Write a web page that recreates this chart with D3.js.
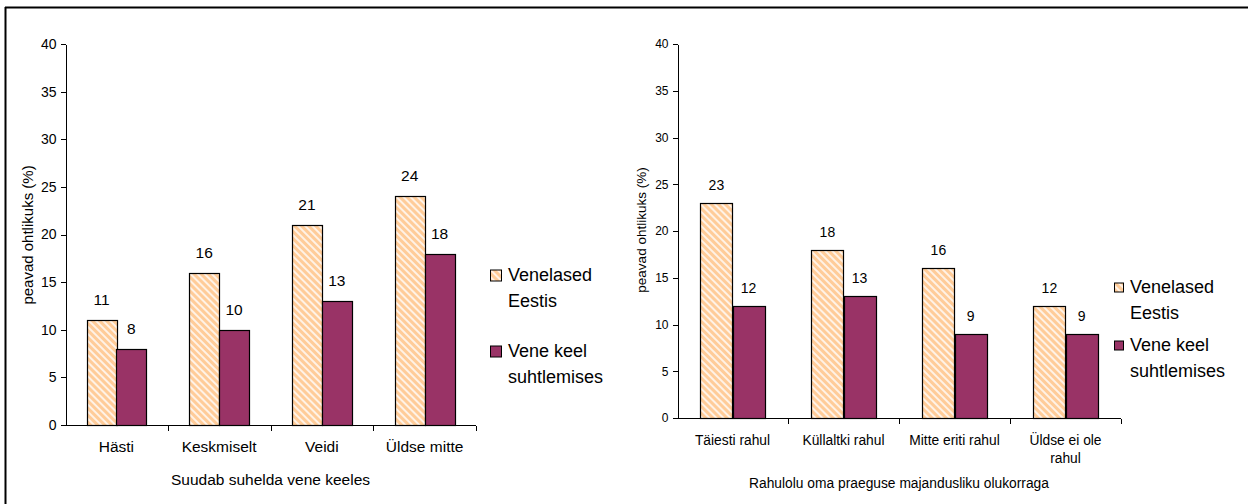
<!DOCTYPE html>
<html lang="et">
<head>
<meta charset="utf-8">
<title>Venelased Eestis</title>
<script src="https://cdn.jsdelivr.net/npm/d3@7"></script>
<style>
  body { margin: 0; background: #fff; }
  svg text { font-family: "Liberation Sans", Arial, sans-serif; fill: #000; }
  .axis path, .axis line { stroke: #000; shape-rendering: crispEdges; }
</style>
</head>
<body>
<script>
// data
var yTicks = [0, 5, 10, 15, 20, 25, 30, 35, 40];
var seriesNames = [["Venelased", "Eestis"], ["Vene keel", "suhtlemises"]];

var leftCategories = [["Hästi"], ["Keskmiselt"], ["Veidi"], ["Üldse mitte"]];
var leftVenelased = [11, 16, 21, 24];
var leftVeneKeel = [8, 10, 13, 18];
var leftTitle = "Suudab suhelda vene keeles";

var rightCategories = [["Täiesti rahul"], ["Küllaltki rahul"], ["Mitte eriti rahul"], ["Üldse ei ole", "rahul"]];
var rightVenelased = [23, 18, 16, 12];
var rightVeneKeel = [12, 13, 9, 9];
var rightTitle = "Rahulolu oma praeguse majandusliku olukorraga";

var yTitle = "peavad ohtlikuks (%)";

var W = 1248, H = 504;
var svg = d3.select("body").append("svg").attr("width", W).attr("height", H);

// striped fill for first series
var defs = svg.append("defs");
var pat = defs.append("pattern")
  .attr("id", "stripes")
  .attr("patternUnits", "userSpaceOnUse")
  .attr("width", 5).attr("height", 5)
  .attr("patternTransform", "rotate(-45)");
pat.append("rect").attr("width", 5).attr("height", 5).attr("fill", "#ffcc99");
pat.append("rect").attr("width", 2).attr("height", 5).attr("fill", "#fff2e6");

var fills = ["url(#stripes)", "#993366"];

// outer frame (top and left edges visible)
svg.append("line").attr("x1", 5).attr("x2", W).attr("y1", 7.5).attr("y2", 7.5)
  .attr("stroke", "#000").attr("stroke-width", 2);
svg.append("line").attr("x1", 5.5).attr("x2", 5.5).attr("y1", 7).attr("y2", H)
  .attr("stroke", "#000").attr("stroke-width", 2);

function drawChart(c) {
  var g = svg.append("g");

  var x = d3.scaleBand()
    .domain(d3.range(c.categories.length))
    .range([c.x0, c.x1]);

  var y = d3.scaleLinear().domain([0, 40]).range([c.y0, c.y1]);

  var inner = d3.scaleBand()
    .domain([0, 1])
    .range([x.bandwidth() * 0.21, x.bandwidth() * 0.79]);

  // bars
  var series = [c.a, c.b];
  series.forEach(function(vals, si) {
    g.selectAll(".bar" + si)
      .data(vals)
      .enter().append("rect")
      .attr("x", function(d, i) { return Math.round(x(i) + inner(si)) + 0.5; })
      .attr("y", function(d) { return Math.round(y(d)) + 0.5; })
      .attr("width", Math.round(inner.bandwidth()))
      .attr("height", function(d) { return Math.round(y(0)) - Math.round(y(d)); })
      .attr("fill", fills[si])
      .attr("stroke", "#000")
      .attr("stroke-width", 1.2);

    g.selectAll(".lab" + si)
      .data(vals)
      .enter().append("text")
      .attr("x", function(d, i) { return x(i) + inner(si) + inner.bandwidth() / 2; })
      .attr("y", function(d) { return y(d) - c.labelGap; })
      .attr("text-anchor", "middle")
      .style("font-size", c.valueSize + "px")
      .text(function(d) { return d; });
  });

  // y axis
  var yAxis = d3.axisLeft(y).tickValues(yTicks).tickSize(5).tickSizeOuter(0).tickPadding(4);
  var ya = g.append("g").attr("class", "axis")
    .attr("transform", "translate(" + (c.x0 + 0.5) + ",0)")
    .call(yAxis);
  ya.selectAll("text").style("font-size", c.tickSize + "px");

  // x axis with ticks at category boundaries
  var xa = g.append("g").attr("class", "axis")
    .attr("transform", "translate(0," + (Math.round(y(0)) + 0.5) + ")");
  xa.append("line").attr("x1", c.x0).attr("x2", c.x1);
  xa.selectAll(".tk")
    .data(d3.range(1, c.categories.length + 1))
    .enter().append("line")
    .attr("x1", function(i) { return Math.round(c.x0 + i * x.step()) + 0.5; })
    .attr("x2", function(i) { return Math.round(c.x0 + i * x.step()) + 0.5; })
    .attr("y1", 0).attr("y2", 5);

  // category labels
  var cl = g.selectAll(".cat")
    .data(c.categories)
    .enter().append("text")
    .attr("text-anchor", "middle")
    .attr("x", function(d, i) { return x(i) + x.bandwidth() / 2; })
    .attr("y", c.catY)
    .style("font-size", c.catSize + "px");
  cl.selectAll("tspan")
    .data(function(d) { return d; })
    .enter().append("tspan")
    .attr("x", function() { return d3.select(this.parentNode).attr("x"); })
    .attr("dy", function(d, i) { return i ? c.catSize * 1.3 : 0; })
    .text(function(d) { return d; });

  // axis titles
  g.append("text")
    .attr("x", (c.x0 + c.x1) / 2)
    .attr("y", c.titleY)
    .attr("text-anchor", "middle")
    .style("font-size", c.catSize + "px")
    .text(c.title);

  g.append("text")
    .attr("transform", "translate(" + c.yTitleX + "," + c.yTitleY + ") rotate(-90)")
    .attr("text-anchor", "middle")
    .style("font-size", c.yTitleSize + "px")
    .text(yTitle);

  // legend
  var lg = g.append("g");
  seriesNames.forEach(function(lines, si) {
    var top = c.legY[si];
    lg.append("rect")
      .attr("x", c.legX + 0.5).attr("y", top - c.sq / 2 + 0.5)
      .attr("width", c.sq).attr("height", c.sq)
      .attr("fill", fills[si]).attr("stroke", "#000");
    var t = lg.append("text")
      .attr("x", c.legX + c.sq + 7)
      .attr("y", top + c.legSize * 0.36)
      .style("font-size", c.legSize + "px");
    lines.forEach(function(line, li) {
      t.append("tspan")
        .attr("x", c.legX + c.sq + 7)
        .attr("dy", li ? c.legLine : 0)
        .text(line);
    });
  });
}

drawChart({
  categories: leftCategories, a: leftVenelased, b: leftVeneKeel, title: leftTitle,
  x0: 65, x1: 476, y0: 425, y1: 44,
  tickSize: 14, valueSize: 15.5, catSize: 15.5, labelGap: 15,
  catY: 452, titleY: 485,
  yTitleX: 33, yTitleY: 235, yTitleSize: 15,
  legX: 490, legY: [275, 351], sq: 11, legSize: 18, legLine: 26
});

drawChart({
  categories: rightCategories, a: rightVenelased, b: rightVeneKeel, title: rightTitle,
  x0: 677, x1: 1121, y0: 418, y1: 44,
  tickSize: 12, valueSize: 14, catSize: 13.8, labelGap: 13,
  catY: 445, titleY: 488,
  yTitleX: 646, yTitleY: 230, yTitleSize: 13.5,
  legX: 1114, legY: [287, 345], sq: 9, legSize: 18, legLine: 26
});
</script>
</body>
</html>
